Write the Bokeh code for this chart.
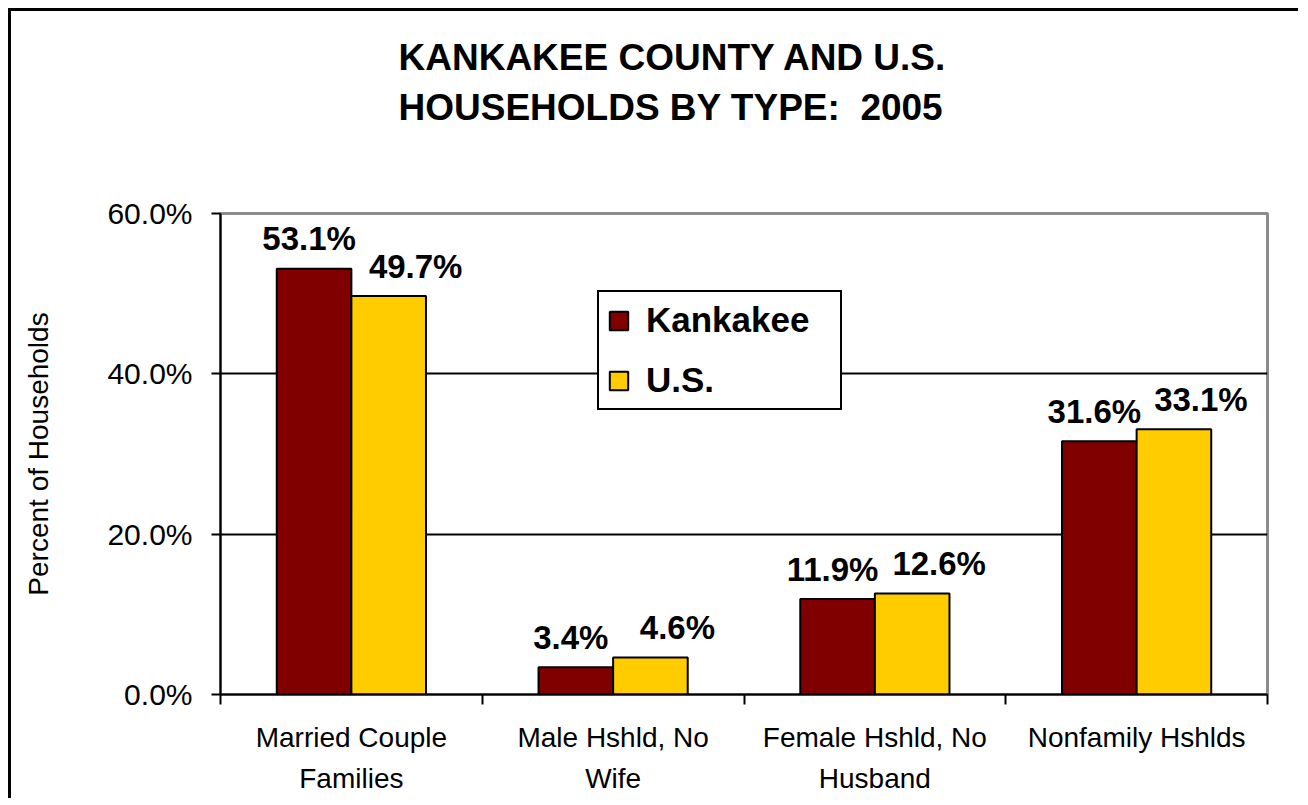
from bokeh.plotting import figure
from bokeh.models import (ColumnDataSource, Range1d, FixedTicker, PrintfTickFormatter,
                          Legend, LegendItem, Title)
from bokeh.transform import dodge
from bokeh.core.properties import value
from bokeh.embed import file_html
from bokeh.resources import INLINE

categories = ["Married Couple\nFamilies", "Male Hshld, No\nWife",
              "Female Hshld, No\nHusband", "Nonfamily Hshlds"]
kankakee = [53.1, 3.4, 11.9, 31.6]
us = [49.7, 4.6, 12.6, 33.1]
y_ticks = [0, 20, 40, 60]
title_lines = ["KANKAKEE COUNTY AND U.S.", "HOUSEHOLDS BY TYPE:  2005"]

FONT = "Liberation Sans"
pos = [i + 0.5 for i in range(len(categories))]
src = ColumnDataSource(dict(
    x=pos, k=kankakee, u=us,
    kl=[f"{v:.1f}%" for v in kankakee],
    ul=[f"{v:.1f}%" for v in us],
))

title_text = "\n".join(t.replace("  ", " \u00a0") for t in title_lines)

p = figure(width=1290, height=790, output_backend="svg", toolbar_location=None,
           x_range=Range1d(0, 4), y_range=Range1d(0, 60),
           min_border_left=209, min_border_right=34, min_border_top=202,
           min_border_bottom=107, tools="", title=title_text)
p.styles = {"margin-left": "8px", "margin-top": "8px",
            "border-left": "3px solid black", "border-top": "3px solid black"}
p.background_fill_color = "white"
p.border_fill_color = "white"
p.outline_line_color = "#8c8c8c"
p.outline_line_width = 3

p.title.align = "left"
p.title.offset = 178
p.title.vertical_align = "top"
p.title.standoff = 0
p.title.text_font = FONT
p.title.text_font_style = "bold"
p.title.text_font_size = "37px"
p.title.text_color = "black"
p.title.text_line_height = 1.23

# blank spacer between the title and the plot frame
spacer = Title(text=" ", text_font_size="10px", standoff=71)
p.above = [spacer] + list(p.above)

bw = 0.285
r1 = p.vbar(x=dodge("x", -bw / 2, range=p.x_range), top="k", width=bw, source=src,
            fill_color="#800000", line_color="black", line_width=2)
r2 = p.vbar(x=dodge("x", bw / 2, range=p.x_range), top="u", width=bw, source=src,
            fill_color="#FFCC00", line_color="black", line_width=2)

for col, top, off, dx in (("kl", "k", -bw / 2, -5), ("ul", "u", bw / 2, 27)):
    p.text(x=dodge("x", off, range=p.x_range), y=top, text=col, source=src,
           text_align="center", text_baseline="alphabetic", y_offset=-30, x_offset=dx,
           text_font=value(FONT), text_font_style="bold", text_font_size="33px",
           text_color="black")

# axes
p.yaxis.ticker = FixedTicker(ticks=y_ticks)
p.yaxis.formatter = PrintfTickFormatter(format="%.1f%%")
p.yaxis.axis_line_color = "black"
p.yaxis.axis_line_width = 2
p.yaxis.major_tick_in = 0
p.yaxis.major_tick_out = 9
p.yaxis.major_tick_line_width = 2
p.yaxis.minor_tick_line_color = None
p.yaxis.major_label_standoff = 19
p.yaxis.major_label_text_font = FONT
p.yaxis.major_label_text_font_size = "30px"
p.yaxis.major_label_text_color = "black"
p.yaxis.axis_label = "Percent of Households"
p.yaxis.axis_label_text_font = FONT
p.yaxis.axis_label_text_font_size = "28px"
p.yaxis.axis_label_text_font_style = "normal"
p.yaxis.axis_label_text_color = "black"
p.yaxis.axis_label_standoff = 50

p.xaxis.ticker = FixedTicker(ticks=pos, minor_ticks=list(range(len(categories) + 1)))
p.xaxis.major_label_overrides = {x: c for x, c in zip(pos, categories)}
p.xaxis.axis_line_color = "black"
p.xaxis.axis_line_width = 2
p.xaxis.major_tick_in = 0
p.xaxis.major_tick_out = 0
p.xaxis.minor_tick_in = 0
p.xaxis.minor_tick_out = 10
p.xaxis.minor_tick_line_color = "black"
p.xaxis.minor_tick_line_width = 2
p.xaxis.major_label_standoff = 17
p.xaxis.major_label_text_font = FONT
p.xaxis.major_label_text_font_size = "28px"
p.xaxis.major_label_text_color = "black"
p.xaxis.major_label_text_line_height = 1.33

p.xgrid.grid_line_color = None
p.ygrid.ticker = FixedTicker(ticks=[20, 40])
p.ygrid.grid_line_color = "black"
p.ygrid.grid_line_width = 2

legend = Legend(items=[LegendItem(label="Kankakee", renderers=[r1]),
                       LegendItem(label="U.S.", renderers=[r2])],
                location=(377, 284), margin=0, padding=8, spacing=20,
                glyph_width=23, glyph_height=23, label_standoff=16,
                label_height=38, label_width=186,
                label_text_font=FONT, label_text_font_style="bold",
                label_text_font_size="35px", label_text_color="black",
                border_line_color="black", border_line_width=2, border_line_alpha=1,
                background_fill_color="white", background_fill_alpha=1)
p.add_layout(legend, "center")

open("out.html", "w").write(file_html(p, INLINE))
